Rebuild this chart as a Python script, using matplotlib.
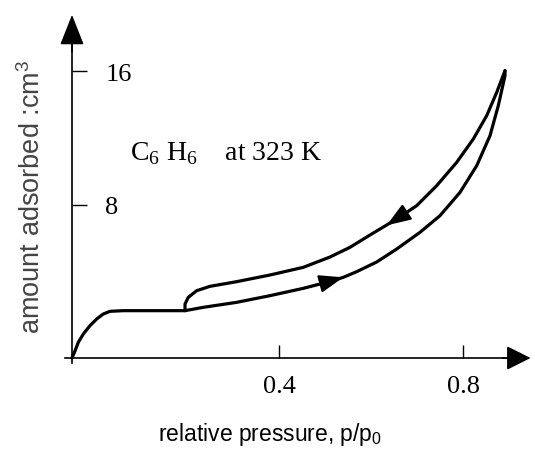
import numpy as np
import matplotlib.pyplot as plt

plt.rcParams['mathtext.fontset'] = 'custom'
plt.rcParams['mathtext.rm'] = 'Liberation Serif'
plt.rcParams['mathtext.sf'] = 'Liberation Sans'

# adsorption (lower) branch incl. the initial rise and the plateau
ads_x = [-0.050, -0.0435, -0.0363, -0.0254, -0.0109, 0.0037, 0.018, 0.0326, 0.061,
         0.1957, 0.2354, 0.3080, 0.3804, 0.4528, 0.5037, 0.5398, 0.5689, 0.6124,
         0.6559, 0.7065, 0.750, 0.7935, 0.8298, 0.8587, 0.8767, 0.8913, 0.8913]
ads_y = [-1.20, -0.78, -0.26, 0.24, 0.74, 1.14, 1.44, 1.60, 1.64,
         1.64, 1.84, 2.14, 2.54, 2.98, 3.34, 3.64, 3.98, 4.56,
         5.34, 6.34, 7.34, 8.74, 10.34, 12.14, 13.94, 15.74, 16.04]

# desorption (upper) branch, from the top back to the plateau
des_x = [0.8913, 0.8733, 0.8515, 0.8224, 0.7863, 0.7428, 0.6993, 0.6559, 0.6341,
         0.5978, 0.5543, 0.5109, 0.4528, 0.3804, 0.3080, 0.250, 0.2211, 0.2028, 0.1957, 0.1957]
des_y = [16.04, 14.74, 13.34, 11.94, 10.54, 9.14, 7.94, 7.14, 6.78,
         6.18, 5.44, 4.86, 4.24, 3.78, 3.38, 3.10, 2.84, 2.44, 2.04, 1.64]

xticks = [0.4, 0.8]
xtick_labels = ['0.4', '0.8']
yticks = [8, 16]
ytick_labels = ['8', '16']

x0, y0 = -0.05, -1.2  # where the two axes cross

fig = plt.figure(figsize=(5.35, 4.52), dpi=100)
ax = fig.add_axes([0, 0, 1, 1])
ax.set_xlim(-0.2065, 0.9565)
ax.set_ylim(-6.78, 20.34)

for s in ['top', 'right']:
    ax.spines[s].set_visible(False)
ax.spines['left'].set_position(('data', x0))
ax.spines['bottom'].set_position(('data', y0))
ax.spines['left'].set_bounds(-1.5, 18.5)
ax.spines['bottom'].set_bounds(-0.065, 0.93)
ax.spines['left'].set_linewidth(1.2)
ax.spines['bottom'].set_linewidth(1.2)

ax.set_xticks(xticks)
ax.set_xticklabels(xtick_labels, family='Liberation Serif', fontsize=19)
ax.set_yticks(yticks)
ax.set_yticklabels(ytick_labels, family='Liberation Serif', fontsize=19)
ax.tick_params(axis='x', direction='in', length=9.5, width=1, pad=12)
ax.tick_params(axis='y', direction='in', length=10.5, width=1, pad=-24)
for lbl in ax.get_yticklabels():
    lbl.set_horizontalalignment('left')

# arrow heads on the axes
ax.annotate('', xy=(x0, 19.56), xytext=(x0, 17.0),
            arrowprops=dict(arrowstyle='-|>,head_length=1.9,head_width=0.75', color='black', lw=1.2))
ax.annotate('', xy=(0.953, y0), xytext=(0.88, y0),
            arrowprops=dict(arrowstyle='-|>,head_length=1.5,head_width=0.75', color='black', lw=1.2))

# isotherm
ax.plot(ads_x, ads_y, color='black', lw=2.3, solid_capstyle='round', solid_joinstyle='round')
ax.plot(des_x, des_y, color='black', lw=2.3, solid_capstyle='round', solid_joinstyle='round')

# direction arrows on the branches
ax.annotate('', xy=(0.540, 3.64), xytext=(0.4528, 2.98),
            arrowprops=dict(arrowstyle='-|>,head_length=1.5,head_width=0.55', color='black',
                            lw=1.5, shrinkA=0, shrinkB=0))
ax.annotate('', xy=(0.634, 6.76), xytext=(0.6993, 7.94),
            arrowprops=dict(arrowstyle='-|>,head_length=1.5,head_width=0.55', color='black',
                            lw=1.5, shrinkA=0, shrinkB=0))

ax.text(0.076, 10.74, r'C$_\mathrm{6}$ H$_\mathrm{6}$    at 323 K', family='Liberation Serif',
        fontsize=20, va='baseline', ha='left')

fig.text(32 / 535, 1 - 197 / 452, r'amount adsorbed :cm$^\mathsf{3}$', rotation=90,
         ha='center', va='center', family='Liberation Sans', fontsize=19.5, color='#444444')
fig.text(270 / 535, 1 - 435 / 452, r'relative pressure, p/p$_\mathsf{0}$', ha='center',
         va='center', family='Liberation Sans', fontsize=16.5, color='black')

fig.savefig('out.png', dpi=100)
